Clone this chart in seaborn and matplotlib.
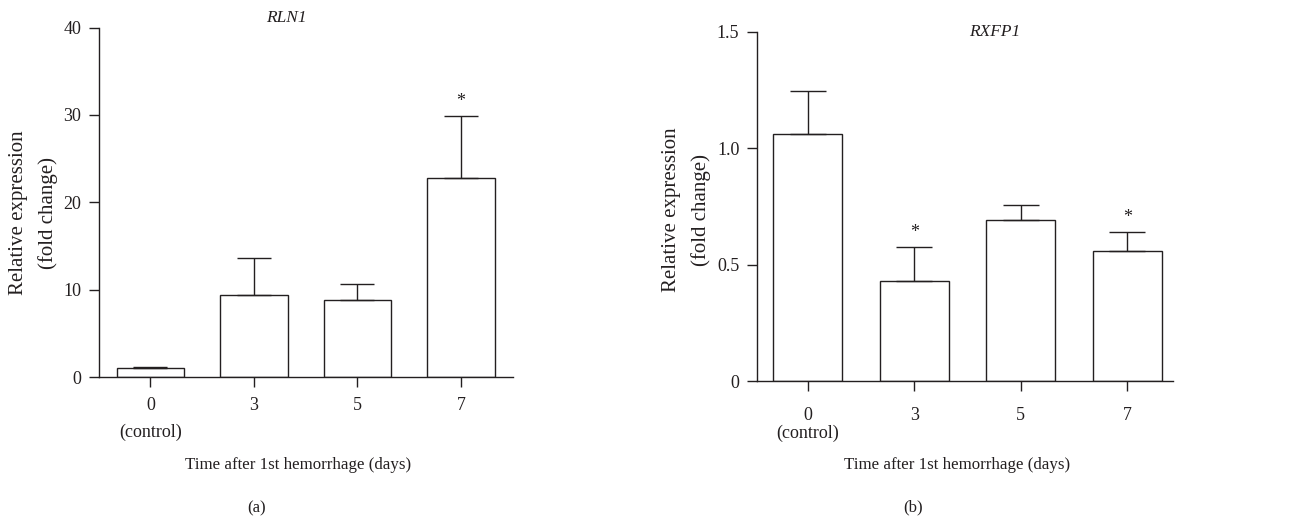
import matplotlib
matplotlib.use("Agg")
import matplotlib.pyplot as plt
import seaborn as sns
import pandas as pd
import numpy as np

# ---- data ----
days = ["0", "3", "5", "7"]
tick_labels = ["0\n(control)", "3", "5", "7"]
rln1_mean = [1.0, 9.4, 8.8, 22.8]
rln1_err = [0.2, 4.2, 1.8, 7.1]
rln1_sig = [False, False, False, True]
rxfp1_mean = [1.06, 0.43, 0.69, 0.56]
rxfp1_err = [0.185, 0.145, 0.065, 0.08]
rxfp1_sig = [False, True, False, True]
rln1_yticks = [0, 10, 20, 30, 40]
rln1_yticklabels = ["0", "10", "20", "30", "40"]
rxfp1_yticks = [0, 0.5, 1.0, 1.5]
rxfp1_yticklabels = ["0", "0.5", "1.0", "1.5"]
xlabel = "Time after 1st hemorrhage (days)"
ylabel = "Relative expression\n(fold change)"

sns.set_theme(style="ticks")
plt.rcParams["font.family"] = ["Liberation Serif", "DejaVu Serif"]
INK = "#231F20"
plt.rcParams["text.color"] = INK

fig = plt.figure(figsize=(12.98, 5.2), dpi=100)
axA = fig.add_axes([0.076, 0.275, 0.319, 0.672])
axB = fig.add_axes([0.583, 0.267, 0.3207, 0.672])

panels = [
    dict(ax=axA, mean=rln1_mean, err=rln1_err, sig=rln1_sig, ylim=(0, 40),
         yt=rln1_yticks, ytl=rln1_yticklabels, xlim=(-0.5, 3.5), title="RLN1",
         tpos=(0.4545, 1.028), ylab=(-0.158, 0.47), xlab=(0.481, -0.252),
         xpad=7, ls=1.7, cap=12),
    dict(ax=axB, mean=rxfp1_mean, err=rxfp1_err, sig=rxfp1_sig, ylim=(0, 1.5),
         yt=rxfp1_yticks, ytl=rxfp1_yticklabels, xlim=(-0.48, 3.43), title="RXFP1",
         tpos=(0.572, 0.999), ylab=(-0.168, 0.49), xlab=(0.481, -0.24),
         xpad=11, ls=1.1, cap=13),
]

for p in panels:
    ax = p["ax"]
    df = pd.DataFrame({"day": days, "value": p["mean"]})
    sns.barplot(data=df, x="day", y="value", order=days, color="white",
                edgecolor=INK, linewidth=1.0, width=0.65, saturation=1, ax=ax)
    xs = np.arange(len(days))
    ax.errorbar(xs, p["mean"], yerr=[np.zeros(len(days)), p["err"]], fmt="none",
                ecolor=INK, elinewidth=1.0, capsize=p["cap"], capthick=1.0, zorder=1)
    for x, m, e, s in zip(xs, p["mean"], p["err"], p["sig"]):
        if s:
            ax.annotate("*", (x, m + e), xytext=(0, 7), textcoords="offset points",
                        ha="center", va="baseline", fontsize=13, color=INK)
    ax.set_xlim(*p["xlim"])
    ax.set_ylim(*p["ylim"])
    ax.set_yticks(p["yt"])
    ax.set_yticklabels(p["ytl"])
    ax.set_xticks(xs)
    ax.set_xticklabels(tick_labels, linespacing=p["ls"])
    ax.tick_params(axis="both", colors=INK, labelcolor=INK, labelsize=13,
                   length=7.5, width=1.0, direction="out")
    ax.tick_params(axis="x", pad=p["xpad"])
    ax.tick_params(axis="y", pad=5)
    for sp in ["top", "right"]:
        ax.spines[sp].set_visible(False)
    for sp in ["left", "bottom"]:
        ax.spines[sp].set_color(INK)
        ax.spines[sp].set_linewidth(1.0)
    ax.set_xlabel(xlabel, fontsize=12.2, color=INK)
    ax.xaxis.set_label_coords(*p["xlab"])
    ax.xaxis.label.set_va("center")
    ax.set_ylabel(ylabel, fontsize=15, color=INK, linespacing=1.7)
    ax.yaxis.set_label_coords(*p["ylab"])
    ax.yaxis.label.set_va("center")
    ax.text(*p["tpos"], p["title"], transform=ax.transAxes, ha="center",
            va="center", fontsize=12.5, fontstyle="italic", color=INK)

fig.text(257 / 1298, 1 - 508 / 520, "(a)", ha="center", va="center", fontsize=12, color=INK)
fig.text(913 / 1298, 1 - 507 / 520, "(b)", ha="center", va="center", fontsize=12, color=INK)

fig.savefig("out.png", dpi=100, facecolor="white")
